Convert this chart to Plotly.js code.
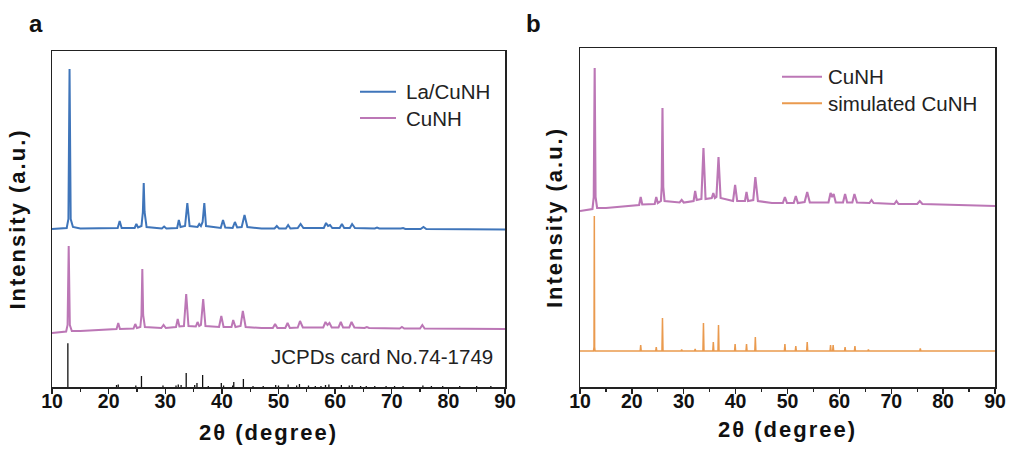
<!DOCTYPE html>
<html>
<head>
<meta charset="utf-8">
<script src="https://cdn.plot.ly/plotly-3.0.1.min.js"></script>
<style>
html,body{margin:0;padding:0;background:#fff;}
#chart{width:1013px;height:452px;}
#chart .xtitle, #chart .x2title, #chart .ytitle, #chart .y2title{letter-spacing:2px;}
#chart g.annotation[data-index="7"] text{letter-spacing:2px;}
</style>
</head>
<body>
<div id="chart"></div>
<script>
// ---------- Panel a : La/CuNH (offset pattern) ----------
const laCuNH_x = [10,12.6,12.9,13.1,13.3,13.7,15,20,21.6,21.95,22.3,24.6,24.9,25.2,25.8,26.05,26.2,26.35,26.7,29.4,29.8,30.2,32.1,32.4,32.7,33.5,33.9,34.3,35.7,36.0,36.3,36.6,36.9,37.2,39.8,40.2,40.6,41.9,42.3,42.7,43.5,44.0,44.5,47,49.3,49.7,50.1,51.3,51.7,52.1,53.4,53.9,54.4,58.0,58.4,58.75,59.1,59.5,60.8,61.2,61.6,62.6,63.0,63.5,67.0,67.4,67.8,71.6,72.0,72.4,75.1,75.6,76.1,90];
const laCuNH_y = [158,159,168,318,168,160,158.5,158.5,159,166,159,159,163,159.5,161,175,204,175,160,158.5,160.5,158.5,159,167,160,161,184,161,160,163,161,165,184,161,159,167,159.5,159,165,159.5,160,172,160,158.5,158.5,161,158.5,158.5,162,158.5,159,163,159,159,164,161,162,159,159,163,159,159,163,159,158.5,159.5,158.5,158.5,159,158,158,160,158,157.5];

// ---------- Panel a : CuNH ----------
const cuNHa_x = [10,12.5,12.75,12.95,13.15,13.5,15,20,21.4,21.7,22.0,24.4,24.7,25.0,25.6,25.8,25.95,26.1,26.4,29.3,29.7,30.1,31.9,32.2,32.5,33.3,33.7,34.1,35.4,35.7,36.0,36.3,36.7,37.1,39.5,39.9,40.3,41.7,42.0,42.4,43.3,43.7,44.2,47,49.0,49.4,49.8,51.2,51.6,52.0,53.4,53.8,54.3,57.9,58.3,58.65,59.0,59.4,60.6,61.0,61.4,62.5,62.9,63.4,65.2,65.6,66.0,71.4,71.8,72.2,75.0,75.4,75.8,90];
const cuNHa_y = [54,55.5,62,141,62,56,56,57.5,58,64,58,58.5,63,59,60,72,118,72,60,59,62,59,60,68,60.5,61,93,61,60.5,65,61,62,88,61,60,71,60,60,67,60,61,76,60,59,59,63,59,59,64,59,59.5,66,59.5,59.5,65,62,64,59.5,59.5,65,59.5,59.5,65,59.5,59,60,59,58.5,60,58.5,58.5,62,58.5,58];

// ---------- Panel a : JCPDS card No.74-1749 reference sticks ----------
const jcpdsPos = [12.8,21.4,21.7,24.8,25.8,29.6,31.9,32.3,32.8,33.7,35.2,35.6,36.6,37.6,39.9,40.3,41.9,42.1,43.8,45.5,47.3,49.5,50.0,51.7,53.2,53.7,55.3,56.5,57.5,58.3,58.9,61.1,62.5,63.0,64.5,65.5,67.0,69.0,70.5,72.0,75.5,77.0,79.0,82.0,85.0,87.5];
const jcpdsInt = [43.7,2,2.5,1.5,11,1.5,1.5,2.5,2,14,2,4,12,1,4,1.5,1.5,5,8,1,1,2,1.5,2.5,1.5,3,1.5,1,1,2,2.5,2,1.5,2,1,1,1,1,1,1,1.5,1,1,1,1,1];

// ---------- Panel b : CuNH ----------
const cuNHb_x = [10,12.4,12.65,12.83,13.0,13.3,15,20,21.4,21.7,22.0,24.4,24.7,25.0,25.6,25.75,25.9,26.05,26.3,29.2,29.6,30.0,31.9,32.2,32.5,33.4,33.8,34.2,35.4,35.7,36.0,36.3,36.7,37.1,39.5,39.9,40.3,41.8,42.1,42.4,43.4,43.8,44.3,47,49.1,49.5,49.9,51.2,51.6,52.0,53.3,53.8,54.3,57.9,58.3,58.6,58.9,59.3,60.7,61.1,61.5,62.5,62.9,63.4,65.8,66.2,66.6,70.6,71.0,71.4,75.0,75.5,76.0,90];
const cuNHb_y = [176,178,190,319,190,179,179,181,182,190,182.5,183,190,184,186,200,279,200,186,184.5,187,184.5,186,196,187,188,239,188,189,194,189,190,230,189,186,202,186,186,195,186,187,210,186,184,184,190,184,184,191,184,185,195,184.5,184.5,194,190,193,184.5,184.5,193,184.5,184.5,193,184.5,184,187,184,183,186,183,183,186,183,181];

// ---------- Panel b : simulated CuNH ----------
const simCuNH_x = [10,12.6,12.7,12.76,12.82,12.9,21.6,21.7,21.8,24.6,24.7,24.8,25.8,25.9,26.0,29.5,29.6,29.7,32.1,32.2,32.3,33.7,33.8,33.9,35.6,35.7,35.8,36.6,36.7,36.8,39.8,39.9,40.0,42.0,42.1,42.2,43.7,43.8,43.9,49.4,49.5,49.6,51.5,51.6,51.7,53.7,53.8,53.9,58.2,58.3,58.4,58.7,58.8,58.9,61.0,61.1,61.2,62.9,63.0,63.1,65.5,65.6,65.7,75.5,75.6,75.7,90];
const simCuNH_y = [36,36,40,171,40,36,36,42,36,36,40,36,36,69,36,36,37.5,36,36,38,36,36,64,36,36,45,36,36,62,36,36,43,36,36,43,36,36,50,36,36,43,36,36,41,36,36,45,36,36,42,36,36,42,36,36,40,36,36,41,36,36,37.5,36,36,38.5,36,36];

// ---------- Axis / text labels ----------
const xTickVals = [10,20,30,40,50,60,70,80,90];
const xTitle = "2θ (degree)";
const yTitle = "Intensity (a.u.)";
const seriesNames = ["La/CuNH", "CuNH", "simulated CuNH"];
const cardLabel = "JCPDs card No.74-1749";
const panelLabels = ["a", "b"];

const C_BLUE = "#3f75ba", C_PINK = "#bc77b6", C_ORANGE = "#ea9a4e";

// sticks built from the arrays as vertical segments
const stickX = [], stickY = [];
jcpdsPos.forEach((p, i) => { stickX.push(p, p, null); stickY.push(0, jcpdsInt[i], null); });

const traces = [
  {x: laCuNH_x, y: laCuNH_y, type: "scatter", mode: "lines", name: seriesNames[0],
   line: {color: C_BLUE, width: 2}, xaxis: "x", yaxis: "y"},
  {x: cuNHa_x, y: cuNHa_y, type: "scatter", mode: "lines", name: seriesNames[1],
   line: {color: C_PINK, width: 2}, xaxis: "x", yaxis: "y"},
  {x: stickX, y: stickY, type: "scatter", mode: "lines", name: cardLabel,
   line: {color: "#111", width: 1.3}, xaxis: "x", yaxis: "y"},
  {x: cuNHb_x, y: cuNHb_y, type: "scatter", mode: "lines", name: seriesNames[1],
   line: {color: C_PINK, width: 2.1}, xaxis: "x2", yaxis: "y2"},
  {x: simCuNH_x, y: simCuNH_y, type: "scatter", mode: "lines", name: seriesNames[2],
   line: {color: C_ORANGE, width: 1.5}, xaxis: "x2", yaxis: "y2"}
];

const FONT = "Liberation Sans, Arial, sans-serif";
const W = 1013, H = 452;
const px = v => v / W, py = v => 1 - v / H;

function xAxis(domain, anchor, titleText) {
  const ax = {
    domain: domain, anchor: anchor, range: [10, 90], tickvals: xTickVals,
    ticks: "outside", ticklen: 5, tickwidth: 1.3, tickcolor: "#222",
    ticklabelstandoff: -9,
    minor: {dtick: 5, tick0: 10, ticks: "outside", ticklen: 3, tickwidth: 1.2, tickcolor: "#222"},
    showline: true, linecolor: "#222", linewidth: 1.5, mirror: true,
    showgrid: false, zeroline: false,
    tickfont: {family: FONT, size: 19.5, weight: "bold", color: "#111"},
    automargin: false
  };
  if (titleText) ax.title = {text: titleText, font: {family: FONT, size: 22, weight: "bold", color: "#111"}, standoff: 10};
  return ax;
}
function yAxis(domain, anchor, range, standoff) {
  return {
    domain: domain, anchor: anchor, range: range,
    showticklabels: false, ticks: "",
    showline: true, linecolor: "#222", linewidth: 1.5, mirror: true,
    showgrid: false, zeroline: false,
    title: {text: yTitle, font: {family: FONT, size: 22, weight: "bold", color: "#111"}, standoff: standoff},
    automargin: false
  };
}

// legend drawn as line samples + labels placed in page coordinates
const legendItems = [
  {name: seriesNames[0], color: C_BLUE,   x0: 360, x1: 396, tx: 404, y: 91.7},
  {name: seriesNames[1], color: C_PINK,   x0: 360, x1: 396, tx: 404, y: 118},
  {name: seriesNames[1], color: C_PINK,   x0: 782, x1: 822, tx: 826, y: 76.7},
  {name: seriesNames[2], color: C_ORANGE, x0: 782, x1: 822, tx: 826, y: 103.3}
];
const shapes = legendItems.map(it => ({
  type: "line", xref: "paper", yref: "paper", x0: px(it.x0), x1: px(it.x1), y0: py(it.y), y1: py(it.y),
  line: {color: it.color, width: 1.9}
}));
const legendTexts = legendItems.map(it => ({
  text: it.name, xref: "paper", yref: "paper", x: px(it.tx), y: py(it.y),
  xanchor: "left", yanchor: "middle", showarrow: false,
  font: {family: FONT, size: 20.5, color: "#222"}
}));

const layout = {
  width: W, height: H,
  margin: {l: 0, r: 0, t: 0, b: 0},
  paper_bgcolor: "#fff", plot_bgcolor: "#fff",
  showlegend: false,
  xaxis: xAxis([px(52), px(505)], "y", null),
  yaxis: yAxis([py(387), py(51)], "x", [0, 336], 19),
  xaxis2: xAxis([px(580), px(995)], "y2", xTitle),
  yaxis2: yAxis([py(387), py(48)], "x2", [0, 339], 10),
  shapes: shapes,
  annotations: legendTexts.concat([
    {text: cardLabel, xref: "paper", yref: "paper", x: px(495), y: py(356),
     xanchor: "right", yanchor: "middle", showarrow: false,
     font: {family: FONT, size: 20.5, color: "#222"}},
    {text: panelLabels[0], xref: "paper", yref: "paper", x: px(36), y: py(24),
     xanchor: "center", yanchor: "middle", showarrow: false,
     font: {family: FONT, size: 24, weight: "bold", color: "#111"}},
    {text: panelLabels[1], xref: "paper", yref: "paper", x: px(533), y: py(24),
     xanchor: "center", yanchor: "middle", showarrow: false,
     font: {family: FONT, size: 24, weight: "bold", color: "#111"}},
    // panel a x-axis title (sits slightly left of the axis centre in the original)
    {text: xTitle, xref: "paper", yref: "paper", x: px(268), y: py(432),
     xanchor: "center", yanchor: "middle", showarrow: false,
     font: {family: FONT, size: 22, weight: "bold", color: "#111"}}
  ])
};

Plotly.newPlot("chart", traces, layout, {displayModeBar: false, staticPlot: true});
</script>
</body>
</html>
